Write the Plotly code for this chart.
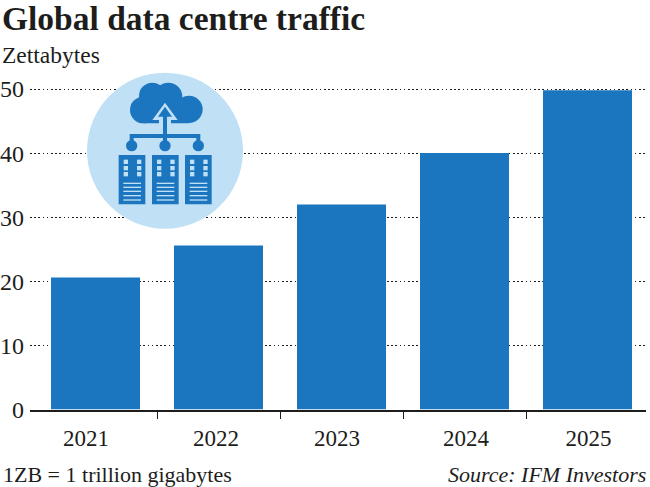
import plotly.graph_objects as go

years = [2021, 2022, 2023, 2024, 2025]
traffic = [20.6, 25.6, 32, 40, 49.8]
y_ticks = [0, 10, 20, 30, 40, 50]
title = "Global data centre traffic"
unit = "Zettabytes"
note = "1ZB = 1 trillion gigabytes"
source = "Source: IFM Investors"

W, H = 650, 487
BLUE = "#1b76bf"
PALE = "#bfe0f5"
INK = "#1d1d1b"
SERIF = "Liberation Serif"
PITCH = 123.0
FIRST_CENTRE = 95.5
UNIT_PX = 6.41
Y0_PX = 409.5
label_nudge_px = [-9.5, -2.5, -4.5, 1.5, 1]


def fx(px):
    return px / W


def fy(py):
    return 1 - py / H


def zx(v):
    return 70 + v / 3


def zy(v):
    return 60 + v / 3


shapes = []


def circle(cx, cy, r, color):
    shapes.append(dict(type="circle", xref="paper", yref="paper", layer="above",
                       x0=fx(zx(cx - r)), x1=fx(zx(cx + r)),
                       y0=fy(zy(cy + r)), y1=fy(zy(cy - r)),
                       fillcolor=color, line=dict(width=0)))


def rect(x0, y0, x1, y1, color):
    shapes.append(dict(type="rect", xref="paper", yref="paper", layer="above",
                       x0=fx(zx(x0)), x1=fx(zx(x1)),
                       y0=fy(zy(y1)), y1=fy(zy(y0)),
                       fillcolor=color, line=dict(width=0)))


def poly(points, color):
    d = "M" + " L".join(f"{fx(zx(a)):.5f},{fy(zy(b)):.5f}" for a, b in points) + " Z"
    shapes.append(dict(type="path", xref="paper", yref="paper", layer="above", path=d,
                       fillcolor=color, line=dict(width=0)))


# Icon: pale disc
circle(285, 272, 234, PALE)
# cloud
circle(220, 150, 40, BLUE)
circle(247, 108, 40, BLUE)
circle(295, 110, 42, BLUE)
circle(357, 148, 41, BLUE)
rect(220, 120, 357, 190, BLUE)
# arrow with pale halo
poly([(285, 128), (323, 180), (303, 180), (303, 195), (267, 195), (267, 180), (247, 180)], PALE)
poly([(285, 140), (306, 170), (264, 170)], BLUE)
rect(279, 168, 291, 240, BLUE)
# connectors
rect(181, 222, 389, 234, BLUE)
rect(179, 222, 191, 258, BLUE)
rect(379, 222, 391, 258, BLUE)
rect(279, 222, 291, 258, BLUE)
for cx in (185, 285, 385):
    circle(cx, 257, 17, BLUE)
# servers
for left in (146, 246, 345):
    rect(left, 285, left + 80, 433, BLUE)
    for row in (305, 324, 342):
        for col in (21, 61):
            rect(left + col - 6, row - 6, left + col + 7, row + 7, PALE)
    for row in (370, 382, 394, 407, 420):
        rect(left + 14, row - 2, left + 67, row + 2, PALE)

annotations = [
    dict(text=f"<b>{title}</b>", x=fx(0), y=fy(19), font=dict(size=33.5, family=SERIF, color=INK)),
    dict(text=unit, x=fx(0), y=fy(55), font=dict(size=23.5, family=SERIF, color=INK)),
    dict(text=note, x=fx(1), y=fy(474.5), font=dict(size=22, family=SERIF, color=INK)),
    dict(text=f"<i>{source}</i>", x=fx(648), y=fy(474.5), xanchor="right", font=dict(size=22, family=SERIF, color=INK)),
]
for a in annotations:
    a.update(xref="paper", yref="paper", showarrow=False, yanchor="middle")
    a.setdefault("xanchor", "left")

fig = go.Figure(go.Bar(x=years, y=traffic, width=89 / PITCH, marker=dict(color=BLUE, line=dict(width=0))))

LEFT_PX, RIGHT_PX = 30, 646
x_from_px = lambda p: years[0] + (p - FIRST_CENTRE) / PITCH
Y_TOP = 50.5

fig.update_layout(
    width=W, height=H, autosize=False,
    margin=dict(l=0, r=0, t=0, b=0, pad=0),
    paper_bgcolor="white", plot_bgcolor="white",
    showlegend=False, shapes=shapes, annotations=annotations,
    font=dict(family=SERIF, color=INK),
)
fig.update_xaxes(
    automargin=False,
    domain=[fx(LEFT_PX), fx(RIGHT_PX)],
    range=[x_from_px(LEFT_PX), x_from_px(RIGHT_PX)],
    tickmode="array",
    tickvals=[y + n / PITCH for y, n in zip(years, label_nudge_px)],
    ticktext=[str(y) for y in years],
    ticks="", tickfont=dict(size=23, family=SERIF, color=INK),
    ticklabelstandoff=7,
    showgrid=False, zeroline=False,
    showline=True, linecolor=INK, linewidth=2,
    minor=dict(tickmode="array", tickvals=[y + 0.5 for y in years[:-1]],
               ticks="outside", ticklen=7, tickwidth=1, tickcolor=INK, showgrid=False),
)
fig.update_yaxes(
    automargin=False,
    domain=[fy(Y0_PX), fy(Y0_PX - Y_TOP * UNIT_PX)],
    range=[0, Y_TOP],
    tickmode="array", tickvals=y_ticks, ticktext=[str(t) for t in y_ticks],
    ticks="", ticklabelstandoff=5, tickfont=dict(size=24, family=SERIF, color=INK),
    showgrid=True, gridcolor=INK, gridwidth=1, griddash="1.5px,2.7px",
    zeroline=False, showline=False,
)

fig.write_html("out.html", config=dict(displayModeBar=False),
               post_script="document.body.style.margin='0';document.body.style.overflow='hidden';")
